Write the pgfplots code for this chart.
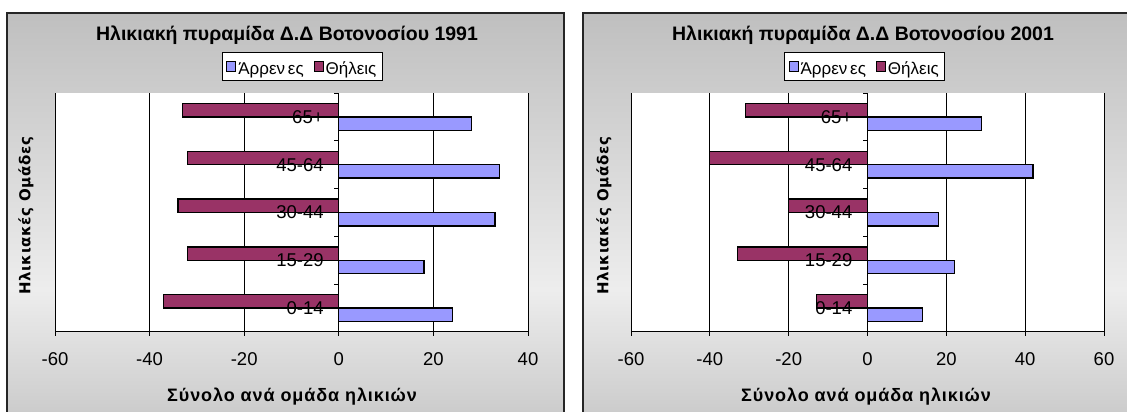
\documentclass[border=0pt]{standalone}
\usepackage{pgfplots}
\pgfplotsset{compat=1.18}
\usepackage{pgfplotstable}
\usepackage{fontspec}
\setmainfont{Liberation Sans}
\newfontfamily\dejavu{DejaVu Sans}
\definecolor{male}{HTML}{9999FF}
\definecolor{female}{HTML}{993366}
\definecolor{bgtop}{gray}{0.75}
\definecolor{bgmid}{gray}{0.93}
\definecolor{bgbot}{gray}{0.79}

\pgfplotstableread{
cat male female
1 24 -37
2 18 -32
3 33 -34
4 34 -32
5 28 -33
}\dataA
\pgfplotstableread{
cat male female
1 14 -13
2 22 -33
3 18 -20
4 42 -40
5 29 -31
}\dataB

\pgfplotsset{
  pyr/.style={
    scale only axis, width=473pt, height=239pt,
    anchor=north west,
    xbar, bar width=0.28,
    enlargelimits=false,
    ymin=0.5, ymax=5.5,
    ytick={1,2,3,4,5},
    yticklabels={},
    axis x line*=bottom, axis y line*=middle,
    axis line style={black, line width=1pt, -},
    xmajorgrids, grid style={black, line width=0.8pt},
    x tick style={black, line width=0.8pt},
    tick align=outside, major tick length=4pt,
    ytick style={draw=none},
    tick label style={font=\fontsize{18.5}{20}\selectfont},
    xticklabel style={yshift=-13pt},
    axis background/.style={fill=white},
    clip=false,
    legend columns=2,
    legend image code/.code={\draw[#1,line width=1pt] (0pt,-5pt) rectangle (9pt,5pt);},
    legend style={anchor=center, draw=black, line width=0.8pt, fill=white,
      font=\fontsize{17}{19}\selectfont, inner xsep=4pt, inner ysep=2pt,
      /tikz/every even column/.append style={column sep=8pt}},
  },
  male bar/.style={fill=male, draw=black, line width=1.3pt, bar shift=-0.14},
  female bar/.style={fill=female, draw=black, line width=1.3pt, bar shift=0.14},
}
\tikzset{catlab/.style={anchor=east, inner sep=0pt, xshift=-15pt, font=\fontsize{18.5}{20}\selectfont}}
\newcommand{\lstrut}{\rule[-8pt]{0pt}{26pt}}
\newcommand{\catlabels}{%
  \node[catlab] at (axis cs:0,1) {0-14};
  \node[catlab] at (axis cs:0,2) {15-29};
  \node[catlab] at (axis cs:0,3) {30-44};
  \node[catlab] at (axis cs:0,4) {45-64};
  \node[catlab] at (axis cs:0,5) {65+};
  \pgfplotsinvokeforeach{1.5,2.5,3.5,4.5,5.5}{\draw[black, line width=0.8pt] (axis cs:0,##1) -- ++(-5pt,0pt);}
}

\begin{document}
\begin{tikzpicture}
\useasboundingbox (0pt,0pt) rectangle (1127pt,412pt);
\clip (0pt,0pt) rectangle (1127pt,412pt);
% backgrounds
\shade[top color=bgtop, bottom color=bgmid] (7pt,122pt) rectangle (564pt,399pt);
\shade[top color=bgmid, bottom color=bgbot] (7pt,-10pt) rectangle (564pt,122.5pt);
\draw[line width=1.6pt, black!85] (7pt,399pt) rectangle (564pt,-20pt);
\shade[top color=bgtop, bottom color=bgmid] (583pt,122pt) rectangle (1140pt,399pt);
\shade[top color=bgmid, bottom color=bgbot] (583pt,-10pt) rectangle (1140pt,122.5pt);
\draw[line width=1.6pt, black!85] (583pt,399pt) rectangle (1140pt,-20pt);

% titles and labels
\node[anchor=base, font=\bfseries\fontsize{19.5}{22}\selectfont] at (287pt,371pt) {Ηλικιακή πυραμίδα Δ.Δ Βοτονοσίου 1991};
\node[anchor=base, font=\bfseries\fontsize{19.5}{22}\selectfont] at (863pt,371pt) {Ηλικιακή πυραμίδα Δ.Δ Βοτονοσίου 2001};
\node[anchor=base, font=\bfseries\fontsize{18}{20}\selectfont\addfontfeature{LetterSpace=5}] at (292pt,10pt) {Σύνολο ανά ομάδα ηλικιών};
\node[anchor=base, font=\bfseries\fontsize{18}{20}\selectfont\addfontfeature{LetterSpace=5}] at (866pt,10pt) {Σύνολο ανά ομάδα ηλικιών};
\node[rotate=90, font=\dejavu\bfseries\fontsize{15}{17}\selectfont\addfontfeature{LetterSpace=4}] at (26pt,196pt) {Ηλικιακές Ομάδες};
\node[rotate=90, font=\dejavu\bfseries\fontsize{15}{17}\selectfont\addfontfeature{LetterSpace=4}] at (604pt,196pt) {Ηλικιακές Ομάδες};

\begin{axis}[pyr, at={(55pt,319pt)}, xmin=-60, xmax=40,
  xtick={-60,-40,-20,0,20,40}, xticklabels={-60,-40,-20,0,20,40},
  legend style={at={(0.523,1.111)}}]
\addplot[male bar] table[x=male, y=cat] {\dataA};
\addlegendentry{\lstrut Άρρεν\,ες}
\addplot[female bar] table[x=female, y=cat] {\dataA};
\addlegendentry{\lstrut Θήλεις}
\catlabels
\end{axis}

\begin{axis}[pyr, at={(631pt,319pt)}, xmin=-60, xmax=60,
  xtick={-60,-40,-20,0,20,40,60}, xticklabels={-60,-40,-20,0,20,40,60},
  legend style={at={(0.494,1.111)}}]
\addplot[male bar] table[x=male, y=cat] {\dataB};
\addlegendentry{\lstrut Άρρεν\,ες}
\addplot[female bar] table[x=female, y=cat] {\dataB};
\addlegendentry{\lstrut Θήλεις}
\catlabels
\end{axis}
\end{tikzpicture}
\end{document}
